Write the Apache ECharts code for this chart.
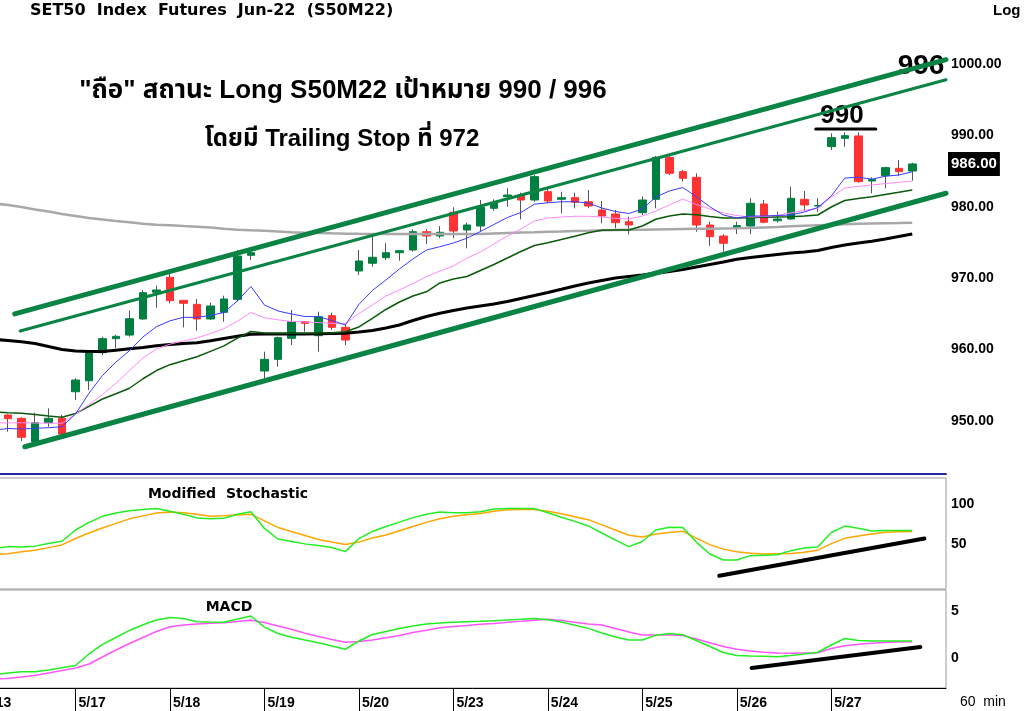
<!DOCTYPE html>
<html><head><meta charset="utf-8">
<script src="https://cdn.jsdelivr.net/npm/echarts@6/dist/echarts.min.js"></script>
<style>html,body{margin:0;padding:0;background:#fff}#c{width:1024px;height:711px}</style>
</head><body><div id="c"></div>
<script>
// ---- data ----
const dayLabels = ['5/13','5/17','5/18','5/19','5/20','5/23','5/24','5/25','5/26','5/27'];
const barsPerDay = 7;
const firstCandleSlot = 2;   // 5/13 bars 0-1 are off-screen
const priceTicks = [950, 960, 970, 980, 990, 1000];
const stochTicks = [50, 100];
const macdTicks = [0, 5];

const open = [950.84,950.38,947.10,949.76,950.38, 954.10,955.64,959.57,961.53,962.04,964.29,968.03, 970.13,966.90,966.34,964.29,965.22,967.04,973.21, 957.00,958.64,961.58,963.91,961.95,964.75,963.12, 971.01,972.09,972.87,973.57,973.95,976.51,975.91, 979.23,976.75,977.31,979.79,981.42,981.65,980.95, 982.12,981.05,981.28,980.71,979.55,978.99,977.91, 979.17,981.05,986.93,984.92,984.13,977.45,975.91, 977.08,977.31,980.39,978.05,978.29,981.05,980.11, 988.42,989.59,989.92,983.61,984.36,985.39,985.01];
const close = [950.32,947.72,949.76,950.38,948.18, 955.74,959.57,961.53,961.86,964.33,967.97,968.35, 966.85,966.49,964.29,966.11,967.09,973.11,973.57, 958.64,961.67,963.91,963.68,964.61,963.12,961.34, 972.41,972.93,973.57,973.85,976.51,975.91,976.43, 976.61,977.45,979.93,980.57,981.65,980.95,984.22, 980.81,981.28,980.63,980.11,978.71,977.77,977.45, 980.95,986.93,984.69,983.99,977.45,975.81,974.89, 977.36,980.49,977.83,978.29,981.19,980.25,980.20, 989.68,989.96,983.52,983.85,985.48,984.92,986.00];
const low = [948.50,947.20,947.00,949.20,947.80, 952.94,954.34,959.24,960.18,961.81,964.15,965.87, 966.49,963.12,962.65,964.15,963.91,966.71,972.55, 955.98,957.60,960.64,962.51,959.71,962.75,960.64, 970.45,971.61,972.55,972.45,973.71,974.79,975.60, 975.60,974.19,976.51,979.45,980.01,978.25,980.71, 980.49,979.09,979.79,979.79,977.69,976.99,976.15, 978.85,979.79,984.45,983.52,976.51,974.51,973.71, 976.19,976.19,977.69,977.77,978.15,979.41,979.31, 987.96,988.42,983.38,981.89,982.59,984.31,983.66];
const high = [950.95,950.50,951.16,951.78,950.84, 955.98,959.65,961.81,962.09,965.45,968.35,968.95, 971.05,966.95,967.09,966.57,967.55,973.95,973.95, 959.71,961.81,965.55,963.95,965.31,965.17,963.45, 973.95,976.05,974.89,973.90,976.85,976.85,977.30, 979.93,977.77,980.95,981.05,982.59,981.98,984.45, 982.59,982.12,981.98,982.35,980.81,979.55,978.61, 981.42,987.11,987.25,985.15,984.69,977.91,976.15, 977.91,981.19,980.95,979.31,982.82,982.21,981.19, 990.29,990.43,990.43,984.13,985.62,986.55,986.18];

// moving averages, one value per bar slot starting at slot 0
const maBlue = [948.60,948.74,948.95,948.88,948.98,949.06,949.20,950.98,953.88,956.37, 958.26,959.85,961.77,963.21,964.03,964.52,964.52,964.78,965.20,966.81, 968.84,966.25,965.41,964.99,964.64,964.61,964.08,963.45,966.33,968.28, 969.75,971.29,972.69,973.95,974.41,974.93,975.60,976.54,977.52,978.50, 979.20,980.36,980.57,980.70,980.71,980.53,979.83,979.34,979.06,979.69, 981.37,982.21,982.70,981.41,980.01,978.85,978.43,978.71,978.71,978.78, 978.85,979.27,979.90,981.51,984.03,984.13,983.86,984.28,984.45,984.90];
const maPink = [949.65,949.72,949.74,949.76,949.72,949.69,949.68,950.98,952.30,953.70, 955.28,957.07,958.82,960.08,960.76,961.22,961.63,962.26,962.93,963.98, 965.20,964.47,964.17,963.94,963.87,963.78,963.68,963.66,965.06,966.25, 967.51,968.35,969.26,970.20,971.01,971.71,972.80,973.67,974.79,975.91, 976.89,978.01,978.43,978.57,978.67,978.67,978.57,978.39,978.29,978.71, 979.41,980.25,981.09,980.32,979.69,979.13,978.78,978.57,978.64,978.81, 979.13,979.51,979.76,981.37,982.63,982.87,983.05,983.26,983.43,983.61];
const maDarkGreen = [951.33,951.26,951.15,951.08,950.91,950.70,950.52,951.05,952.05,953.08, 953.82,954.59,955.92,957.07,957.89,958.45,959.01,959.76,960.52,961.60, 962.54,962.33,962.28,962.28,962.28,962.33,962.37,962.51,963.17,964.39, 965.62,966.67,967.51,968.10,969.33,969.89,970.24,971.08,971.92,972.83, 973.74,974.58,974.97,975.41,975.88,976.36,976.72,976.75,976.75,977.31, 978.25,978.71,978.99,978.88,978.64,978.43,978.43,978.47,978.53,978.57, 978.61,978.71,978.85,979.97,980.88,981.16,981.40,981.72,982.03,982.35];
const maGray = [980.60,980.46,980.25,979.97,979.62,979.34,978.99,978.71,978.43,978.22, 978.01,977.83,977.63,977.50,977.41,977.31,977.22,977.10,976.94,976.79, 976.71,976.64,976.55,976.42,976.35,976.33,976.28,976.24,976.21,976.19, 976.19,976.19,976.19,976.19,976.19,976.19,976.19,976.19,976.26,976.33, 976.40,976.44,976.50,976.55,976.61,976.66,976.72,976.75,976.78,976.80, 976.83,976.86,976.89,976.92,976.94,976.97,976.99,977.03,977.10,977.17, 977.27,977.35,977.43,977.50,977.56,977.62,977.66,977.70,977.73,977.77];
const maBlack = [961.63,961.42,961.28,961.09,960.85,960.43,960.01,959.80,959.73,959.73, 959.92,960.11,960.30,960.53,960.72,960.85,960.95,961.23,961.56,961.88, 962.16,962.19,962.19,962.19,962.19,962.22,962.26,962.30,962.46,962.68, 963.03,963.45,964.08,964.64,965.09,965.48,965.83,966.11,966.39,966.74, 967.16,967.58,968.00,968.45,968.91,969.33,969.68,970.03,970.24,970.45, 970.70,970.94,971.22,971.57,971.92,972.27,972.65,972.90,973.11,973.32, 973.53,973.67,973.88,974.30,974.65,974.93,975.18,975.49,975.84,976.19];

const stochK = [42.5,45,47.5,46.9,48.1,51.3,54.1,68.1,77.5,85, 89.1,91.9,93.4,94.6,91.3,87.5,83.1,82.1,82.5,87.5, 90.6,70,56.9,53.8,50.9,48.8,46.3,41.3,57.5,66.3, 72.5,77.8,83.4,87.5,90.4,89.6,89.4,90.6,94,94.6, 94.6,94.6,89.4,83.8,78.8,73.1,64.4,55.6,47.5,53.8, 68.1,71.6,71.3,53.1,38.4,30.9,30.9,36.3,36.9,37.5, 42.5,45.9,46.9,65,72.9,70.3,66.9,67.5,67.5,67.5];
const stochD = [33.75,37.5,38.75,41.25,43.1,46.25,49.6,57.5,64.4,70.6, 76.25,81.9,85.6,89.1,90.25,89.4,87.5,85.25,85.6,86.6, 87.5,79.4,71.25,66.25,61.25,56.25,53.1,50,53.1,58.1, 61.9,67.25,72.5,77.5,82.1,85,86.9,88.4,91.25,93.1, 93.4,93.4,91.25,88.1,84.4,80.9,74.4,68.1,61.6,59.4, 63.1,65,66.6,58.1,50,44.4,41.25,39.4,38.4,38.75, 39.1,40.6,43.1,51.25,57.75,60.6,63.1,65.4,65.9,66.25];
const macd = [-1.91,-1.76,-1.60,-1.46,-1.46,-1.28,-1.03,-0.80,0.43,1.44, 2.18,2.93,3.54,4.04,4.31,4.20,3.86,3.83,3.81,4.15, 4.47,3.29,2.61,2.20,1.91,1.63,1.28,0.93,1.81,2.50, 2.82,3.14,3.40,3.62,3.72,3.80,3.85,3.90,3.96,4.04, 4.12,4.21,4.06,3.83,3.48,3.15,2.66,2.23,1.91,1.91, 2.43,2.61,2.47,1.86,1.22,0.59,0.27,0.21,0.18,0.14, 0.27,0.43,0.61,1.38,2.07,1.86,1.81,1.81,1.81,1.81];
const macdSignal = [-2.34,-2.23,-2.18,-2.02,-1.86,-1.60,-1.33,-1.06,-0.64,0.11, 0.85,1.54,2.18,2.82,3.33,3.51,3.62,3.69,3.74,3.88, 4.01,3.78,3.40,3.05,2.63,2.29,1.97,1.67,1.76,1.91, 2.15,2.39,2.71,2.95,3.21,3.35,3.46,3.59,3.68,3.80, 3.90,4.01,4.12,3.99,3.81,3.62,3.50,3.14,2.77,2.45, 2.45,2.45,2.39,2.02,1.62,1.22,0.93,0.74,0.61,0.53, 0.50,0.53,0.56,1.01,1.30,1.46,1.56,1.65,1.70,1.73];

// hand-drawn trend lines [slot, value]
const channelUpper = [[2.5, 965.0], [71.5, 1000.6]];
const channelInner = [[2.9, 962.6], [71.5, 997.8]];
const channelLower = [[3.25, 946.4], [71.5, 981.9]];
const target990Line = [[61.85, 990.9], [66.3, 990.9]];
const stochTrend = [[54.7, 11.3], [69.9, 57.5]];
const macdTrend = [[57.1, -1.06], [69.6, 1.17]];

// ---- build ----
const FONT = 'Arial, "Liberation Sans", "Noto Sans Thai", "DejaVu Sans", sans-serif';
const WIDE = '"DejaVu Sans", Arial, sans-serif';
const xMax = 71.5;
const candles = open.map((o, k) => [k + firstCandleSlot, o, close[k], low[k], high[k]]);
const bodies = open.map((o, k) => [k + firstCandleSlot, o, close[k], Math.min(o, close[k]), Math.max(o, close[k])]);
const dayTicks = dayLabels.map((d, i) => i * barsPerDay);
const lastPrice = close[close.length - 1];
const range = (a, b, s) => { const r = []; for (let v = a; v <= b + 1e-9; v += s) r.push(+v.toFixed(4)); return r; };

function series(data, color, width, g, z) {
  return { type: 'line', xAxisIndex: g, yAxisIndex: g, data: data.map((v, i) => [i, v]), symbol: 'none',
    lineStyle: { color: color, width: width }, z: z || 4, silent: true, animation: false };
}
function seg(pts, color, width, g, z) {
  return { type: 'line', xAxisIndex: g, yAxisIndex: g, data: pts, symbol: 'none',
    lineStyle: { color: color, width: width, cap: 'round' }, z: z || 5, silent: true, animation: false };
}
function xAx(g, extra) {
  return Object.assign({ type: 'value', gridIndex: g, min: 0, max: xMax, show: true,
    axisLine: { show: false }, axisTick: { show: false }, axisLabel: { show: false }, splitLine: { show: false } }, extra || {});
}
function yAx(g, min, max, labels, ticks, fmt) {
  return { type: 'value', gridIndex: g, position: 'right', min: min, max: max,
    axisLine: { show: true, lineStyle: { color: '#000', width: 1 } },
    axisTick: { show: true, inside: true, length: 4, customValues: ticks, lineStyle: { color: '#000' } },
    axisLabel: { show: true, customValues: labels, formatter: fmt, color: '#000', fontWeight: 'bold', fontSize: 14, fontFamily: FONT, margin: 5 },
    splitLine: { show: false } };
}
const gridBase = { left: -19, right: 78, outerBoundsMode: 'none', containLabel: false };

const chart = echarts.init(document.getElementById('c'), null, { renderer: 'canvas' });
chart.setOption({
  animation: false,
  backgroundColor: '#ffffff',
  grid: [
    Object.assign({ top: 0, height: 474 }, gridBase),
    Object.assign({ top: 478, height: 111, show: true, borderColor: '#999', borderWidth: 1 }, gridBase),
    Object.assign({ top: 590, height: 98, show: true, borderColor: '#999', borderWidth: 1 }, gridBase)
  ],
  xAxis: [
    xAx(0, { axisLine: { show: true, onZero: false, lineStyle: { color: '#2a2aa0', width: 2 } } }),
    xAx(1),
    xAx(2, {
      axisLine: { show: true, onZero: false, lineStyle: { color: '#000', width: 1 } },
      axisTick: { show: true, length: 23, customValues: dayTicks, lineStyle: { color: '#000' } },
      axisLabel: { show: true, customValues: dayTicks, formatter: v => dayLabels[Math.round(v / barsPerDay)],
        align: 'left', padding: [0, 0, 0, 3], margin: 8, color: '#000', fontWeight: 'bold', fontSize: 14, fontFamily: FONT }
    })
  ],
  yAxis: [
    yAx(0, 942.58, 1008.96, priceTicks, range(944, 1008, 2), v => v.toFixed(2)),
    yAx(1, -5, 132.5, stochTicks, range(0, 130, 10), v => String(v)),
    yAx(2, -3.19, 7.23, macdTicks, range(-3, 7, 1), v => String(v))
  ],
  graphic: [
    { type: 'text', x: 30, y: 3, style: { text: 'SET50  Index  Futures  Jun-22  (S50M22)', font: 'bold 16px ' + WIDE, fill: '#000' } },
    { type: 'text', x: 993, y: 3, style: { text: 'Log', font: 'bold 15px ' + FONT, fill: '#000' } },
    { type: 'text', x: 343, y: 78, style: { text: '"ถือ" สถานะ Long S50M22 เป้าหมาย 990 / 996', font: 'bold 26px ' + FONT, fill: '#000', align: 'center' } },
    { type: 'text', x: 342, y: 127, style: { text: 'โดยมี Trailing Stop ที่ 972', font: 'bold 24px ' + FONT, fill: '#000', align: 'center' } },
    { type: 'text', x: 921, y: 52, style: { text: '996', font: 'bold 28px ' + FONT, fill: '#000', align: 'center' } },
    { type: 'text', x: 842, y: 103, style: { text: '990', font: 'bold 26px ' + FONT, fill: '#000', align: 'center' } },
    { type: 'text', x: 228, y: 487, style: { text: 'Modified  Stochastic', font: 'bold 14px ' + WIDE, fill: '#000', align: 'center' } },
    { type: 'text', x: 229, y: 600, style: { text: 'MACD', font: 'bold 14px ' + WIDE, fill: '#000', align: 'center' } },
    { type: 'text', x: 960, y: 695, style: { text: '60  min', font: '14px ' + FONT, fill: '#000' } }
  ],
  series: [
    { type: 'candlestick', xAxisIndex: 0, yAxisIndex: 0, data: candles, encode: { x: 0, y: [1, 2, 3, 4] },
      barWidth: 1, z: 2, silent: true,
      itemStyle: { color: '#555', color0: '#555', borderColor: '#555', borderColor0: '#555', borderColorDoji: '#555', borderWidth: 1 } },
    { type: 'candlestick', xAxisIndex: 0, yAxisIndex: 0, data: bodies, encode: { x: 0, y: [1, 2, 3, 4] },
      barWidth: 8, z: 3, silent: true,
      itemStyle: { color: '#008040', color0: '#ff3333', borderColor: '#008040', borderColor0: '#ff3333', borderColorDoji: '#008040', borderWidth: 1 },
      markLine: { silent: true, symbol: 'none', animation: false, lineStyle: { color: 'transparent', width: 0 },
        label: { show: true, position: 'end', distance: 2, formatter: p => p.value.toFixed(2), backgroundColor: '#000', color: '#fff',
          fontWeight: 'bold', fontSize: 15, fontFamily: FONT, padding: [5, 3, 4, 3] },
        data: [{ yAxis: lastPrice }] } },
    series(maGray, '#a8a8a8', 2.5, 0, 4),
    series(maBlack, '#000000', 3, 0, 4),
    series(maDarkGreen, '#0b5a0b', 1.5, 0, 4),
    series(maPink, '#ff88ff', 1, 0, 4),
    series(maBlue, '#3a3aff', 1, 0, 4),
    seg(channelUpper, '#0a8444', 5, 0),
    seg(channelInner, '#0a8444', 3, 0),
    seg(channelLower, '#0a8444', 5, 0),
    seg(target990Line, '#000', 3, 0),
    series(stochD, '#ffa500', 1.5, 1),
    series(stochK, '#22ee22', 1.5, 1),
    seg(stochTrend, '#000', 4, 1),
    series(macdSignal, '#ff55ff', 1.5, 2),
    series(macd, '#22ee22', 1.5, 2),
    seg(macdTrend, '#000', 4, 2)
  ]
});
</script>
</body></html>
